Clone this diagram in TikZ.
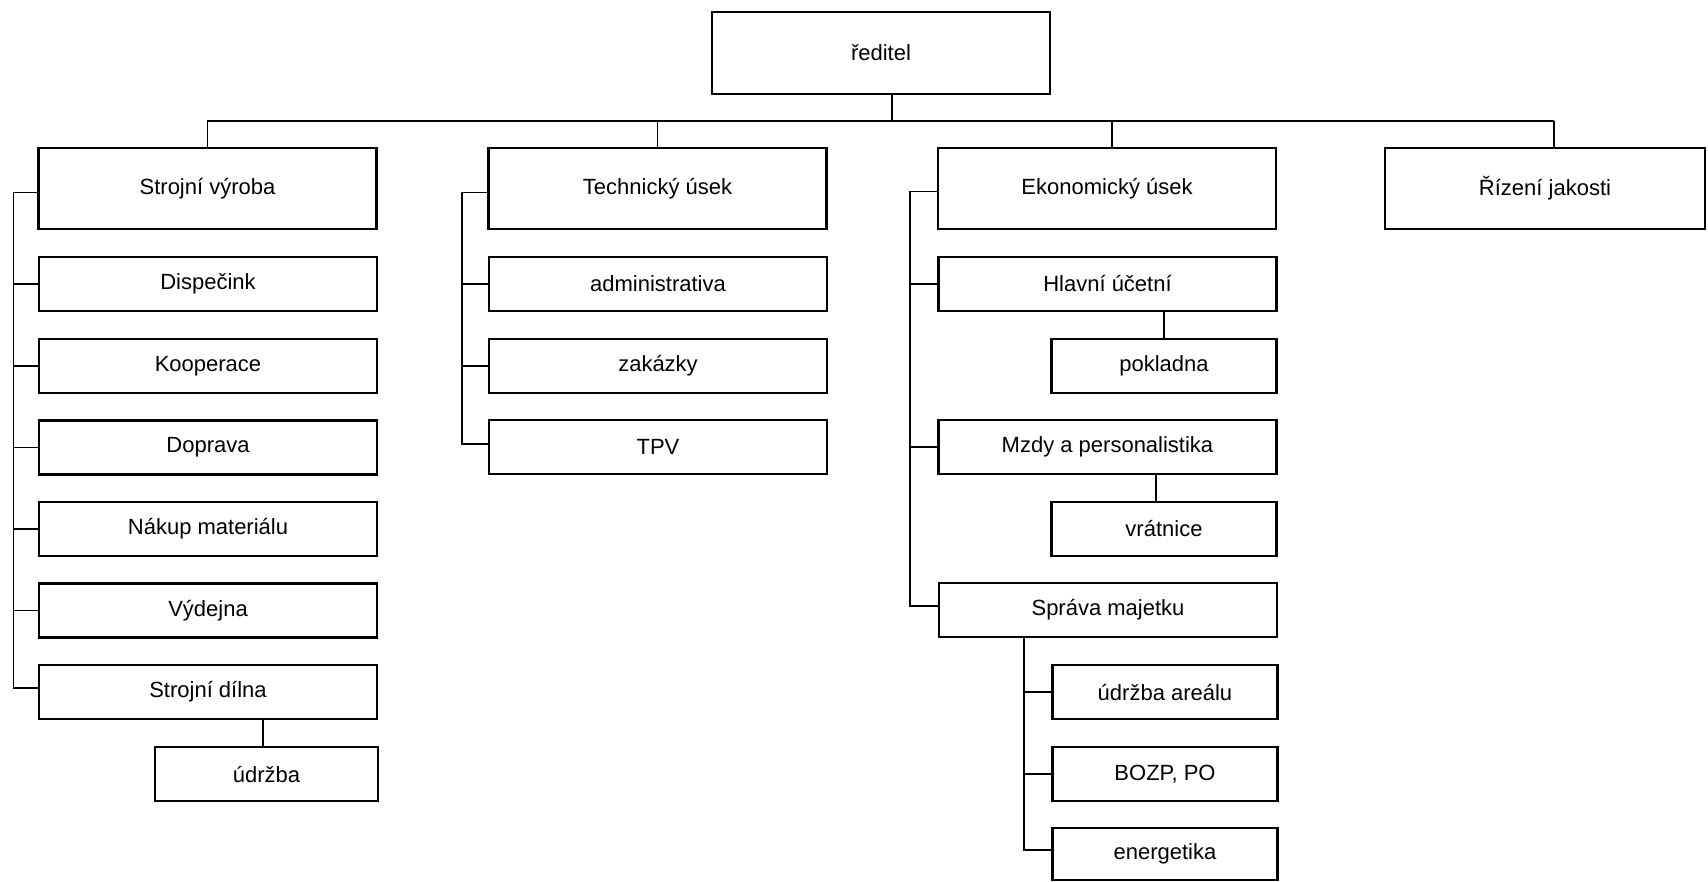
\documentclass[tikz,border=0pt]{standalone}
\usepackage{fontspec}
\setmainfont{Liberation Sans}
\begin{document}
\begin{tikzpicture}[x=1pt,y=-1pt,
  font=\fontsize{22}{26}\selectfont,
  box/.style={draw, line width=2.4pt, inner sep=0pt, align=center},
  big/.style={box, minimum width=338pt, minimum height=81pt},
  sub/.style={box, minimum width=338pt, minimum height=54pt},
  small/.style={box, minimum width=225pt, minimum height=54pt},
  conn/.style={line width=1.6pt},
  bus/.style={line width=2.6pt}]
\fill[white] (0,0) rectangle (1708,881);
\useasboundingbox (0,0) rectangle (1708,881);

% top
\node[box, minimum width=338pt, minimum height=82pt] (reditel) at (881,53) {ředitel};

% level 1
\node[big] (strojni) at (207.5,188.5) {Strojní výroba};
\node[big] (tech) at (657.5,188.5) {Technický úsek};
\node[big] (eko) at (1107,188.5) {Ekonomický úsek};
\node[box, minimum width=320pt, minimum height=81pt] (rizeni) at (1545,188.5) {Řízení jakosti};

% bus
\coordinate (busL) at (207,121);
\coordinate (busR) at (1554,121);
\draw[bus] (busL) -- (busR);
\draw[conn] ([xshift=11pt]reditel.south) -- ([xshift=11pt]reditel.south |- busL);
\draw[conn] (strojni.north) -- (strojni.north |- busL);
\draw[conn] (tech.north) -- (tech.north |- busL);
\draw[conn] ([xshift=5pt]eko.north) -- ([xshift=5pt]eko.north |- busL);
\draw[conn] ([xshift=9pt]rizeni.north) -- ([xshift=9pt]rizeni.north |- busL);

% Strojni vyroba column
\node[sub] (disp) at (208,284) {Dispečink};
\node[sub] (koop) at (208,366) {Kooperace};
\node[sub] (dopr) at (208,447.5) {Doprava};
\node[sub] (nakup) at (208,529) {Nákup materiálu};
\node[sub] (vydej) at (208,610.5) {Výdejna};
\node[sub] (dilna) at (208,692) {Strojní dílna};
\node[small, minimum width=223pt] (udrzba) at (266.5,774) {údržba};

\coordinate (LA) at (13.5,0);
\draw[conn] ([yshift=-4pt]strojni.west) -- ([yshift=-4pt]strojni.west -| LA) -- ([yshift=4pt]dilna.west -| LA) -- ([yshift=4pt]dilna.west);
\foreach \n in {disp,koop,dopr,nakup,vydej}
  \draw[conn] (\n.west) -- (\n.west -| LA);
\draw[conn] (udrzba.north -| 263,0) -- (dilna.south -| 263,0);

% Technicky usek column
\node[sub] (admin) at (658,284) {administrativa};
\node[sub] (zak) at (658,366) {zakázky};
\node[sub] (tpv) at (658,447) {TPV};

\coordinate (LB) at (462,0);
\draw[conn] ([yshift=-4pt]tech.west) -- ([yshift=-4pt]tech.west -| LB) -- ([yshift=3pt]tpv.west -| LB) -- ([yshift=3pt]tpv.west);
\foreach \n in {admin,zak}
  \draw[conn] (\n.west) -- (\n.west -| LB);

% Ekonomicky usek column
\node[sub] (hlavni) at (1107.5,284) {Hlavní účetní};
\node[small] (pokl) at (1164,366) {pokladna};
\node[sub] (mzdy) at (1107.5,447) {Mzdy a personalistika};
\node[small] (vrat) at (1164,529) {vrátnice};
\node[sub] (sprava) at (1108,610) {Správa majetku};
\node[small] (areal) at (1165,692) {údržba areálu};
\node[small] (bozp) at (1165,774) {BOZP, PO};
\node[small, minimum height=52pt] (energ) at (1165,854) {energetika};

\coordinate (LC) at (910,0);
\draw[conn] ([yshift=-3pt]eko.west) -- ([yshift=-3pt]eko.west -| LC) -- ([yshift=4pt]sprava.west -| LC) -- ([yshift=4pt]sprava.west);
\foreach \n in {hlavni,mzdy}
  \draw[conn] (\n.west) -- (\n.west -| LC);
\draw[conn] (pokl.north) -- (pokl.north |- hlavni.south);
\draw[conn] ([xshift=-8pt]vrat.north) -- ([xshift=-8pt]vrat.north |- mzdy.south);

\coordinate (LD) at (1024,0);
\draw[conn] (sprava.south -| LD) -- ([yshift=4pt]energ.west -| LD) -- ([yshift=4pt]energ.west);
\foreach \n in {areal,bozp}
  \draw[conn] (\n.west) -- (\n.west -| LD);
\end{tikzpicture}
\end{document}
